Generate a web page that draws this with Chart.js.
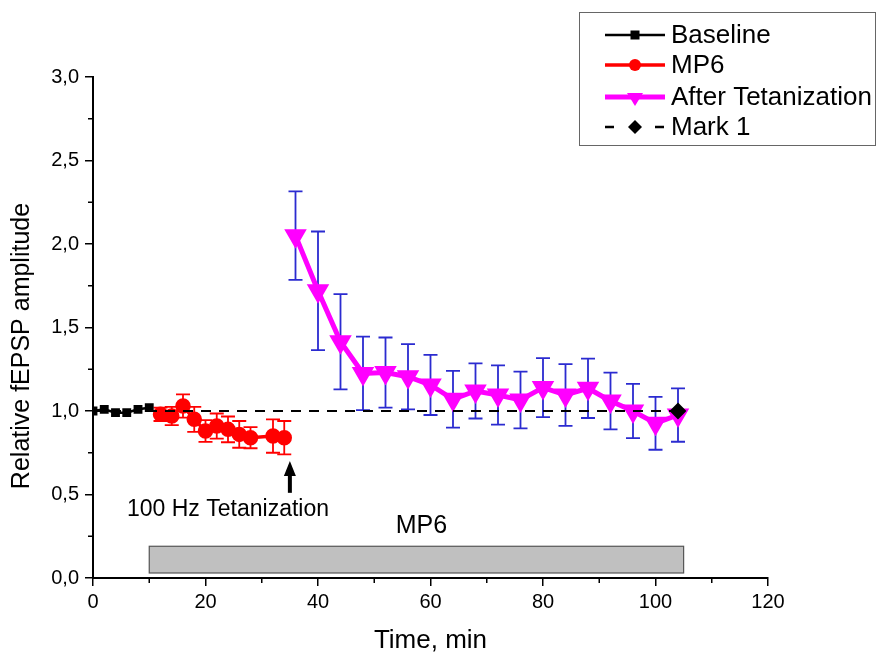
<!DOCTYPE html>
<html>
<head>
<meta charset="utf-8">
<script src="https://cdn.jsdelivr.net/npm/chart.js@4.4.1/dist/chart.umd.min.js"></script>
<style>
  html, body { margin: 0; padding: 0; background: #fff; }
  #wrap { width: 877px; height: 656px; }
</style>
</head>
<body>
<div id="wrap"><canvas id="chart" width="877" height="656"></canvas></div>
<script>
// --- Data ---
const baseTime = [0, 2, 4, 6, 8, 10];
const baseValue = [1.0, 1.01, 0.99, 0.99, 1.01, 1.02];

const mp6Time = [12, 14, 16, 18, 20, 22, 24, 26, 28, 32, 34];
const mp6Value = [0.98, 0.97, 1.03, 0.95, 0.88, 0.91, 0.89, 0.86, 0.84, 0.85, 0.84];
const mp6Err = [0.04, 0.055, 0.07, 0.075, 0.065, 0.075, 0.077, 0.08, 0.063, 0.1, 0.1];

const afterTime = [36, 40, 44, 48, 52, 56, 60, 64, 68, 72, 76, 80, 84, 88, 92, 96, 100, 104];
const afterValue = [2.05, 1.72, 1.415, 1.225, 1.23, 1.205, 1.156, 1.07, 1.12, 1.096, 1.066, 1.14, 1.096, 1.136, 1.06, 1.0, 0.926, 0.976];
const afterErr = [0.265, 0.355, 0.285, 0.22, 0.21, 0.195, 0.18, 0.17, 0.165, 0.177, 0.17, 0.177, 0.185, 0.178, 0.17, 0.163, 0.158, 0.16];

const markTime = [0, 104];
const markValue = [1.0, 1.0];

// drug application bar and tetanization mark
const mp6Bar = { start: 10, end: 105, low: 0.03, high: 0.19, label: 'MP6' };
const tetanus = { time: 35, from: 0.51, to: 0.70, label: '100 Hz Tetanization', labelTime: 24, labelValue: 0.41 };

const xTicks = [0, 20, 40, 60, 80, 100, 120];
const yTicks = [0, 0.5, 1.0, 1.5, 2.0, 2.5, 3.0];
const yTitle = 'Relative fEPSP amplitude';

const FONT = '"Liberation Sans", Arial, sans-serif';
const toPts = (xs, ys) => xs.map((x, i) => ({ x: x, y: ys[i] }));

// --- Plugin: error bars, minor ticks, annotations, legend ---
const extras = {
  id: 'extras',
  beforeDatasetsDraw(chart) {
    const ctx = chart.ctx, xs = chart.scales.x, ys = chart.scales.y;
    // grey MP6 bar
    const l = xs.getPixelForValue(mp6Bar.start), r = xs.getPixelForValue(mp6Bar.end);
    const t = ys.getPixelForValue(mp6Bar.high), b = ys.getPixelForValue(mp6Bar.low);
    ctx.save();
    ctx.fillStyle = '#c0c0c0';
    ctx.strokeStyle = '#555';
    ctx.lineWidth = 1.2;
    ctx.fillRect(l, t, r - l, b - t);
    ctx.strokeRect(l, t, r - l, b - t);
    ctx.fillStyle = '#000';
    ctx.font = '25px ' + FONT;
    ctx.textAlign = 'center';
    ctx.textBaseline = 'middle';
    ctx.fillText(mp6Bar.label, (l + r) / 2 + 5, t - 20);

    // error bars
    const drawErr = (xsArr, vals, errs, color) => {
      ctx.strokeStyle = color;
      ctx.lineWidth = 1.8;
      xsArr.forEach((x, i) => {
        const px = xs.getPixelForValue(x);
        const top = ys.getPixelForValue(vals[i] + errs[i]);
        const bot = ys.getPixelForValue(vals[i] - errs[i]);
        ctx.beginPath();
        ctx.moveTo(px, top); ctx.lineTo(px, bot);
        ctx.moveTo(px - 7, top); ctx.lineTo(px + 7, top);
        ctx.moveTo(px - 7, bot); ctx.lineTo(px + 7, bot);
        ctx.stroke();
      });
    };
    drawErr(mp6Time, mp6Value, mp6Err, '#ff0000');
    drawErr(afterTime, afterValue, afterErr, '#2b2bd0');
    ctx.restore();
  },
  afterDraw(chart) {
    const ctx = chart.ctx, xs = chart.scales.x, ys = chart.scales.y;
    const area = chart.chartArea;
    ctx.save();
    // minor ticks
    ctx.strokeStyle = '#000';
    ctx.lineWidth = 1.5;
    ctx.beginPath();
    for (let v = 10; v < 120; v += 20) {
      const px = xs.getPixelForValue(v);
      ctx.moveTo(px, area.bottom); ctx.lineTo(px, area.bottom + 5);
    }
    for (let v = 0.25; v < 3; v += 0.5) {
      const py = ys.getPixelForValue(v);
      ctx.moveTo(area.left, py); ctx.lineTo(area.left - 5, py);
    }
    ctx.stroke();

    // y axis title (sits a bit below the axis centre in the original)
    ctx.save();
    ctx.translate(22, 346);
    ctx.rotate(-Math.PI / 2);
    ctx.fillStyle = '#000';
    ctx.font = '25px ' + FONT;
    ctx.textAlign = 'center';
    ctx.textBaseline = 'middle';
    ctx.fillText(yTitle, 0, 0);
    ctx.restore();

    // tetanization arrow
    const ax = xs.getPixelForValue(tetanus.time);
    const a0 = ys.getPixelForValue(tetanus.from), a1 = ys.getPixelForValue(tetanus.to);
    ctx.lineWidth = 4;
    ctx.beginPath();
    ctx.moveTo(ax, a0); ctx.lineTo(ax, a1 + 10);
    ctx.stroke();
    ctx.fillStyle = '#000';
    ctx.beginPath();
    ctx.moveTo(ax, a1); ctx.lineTo(ax - 6, a1 + 15); ctx.lineTo(ax + 6, a1 + 15);
    ctx.closePath();
    ctx.fill();
    ctx.font = '23px ' + FONT;
    ctx.textAlign = 'center';
    ctx.textBaseline = 'middle';
    ctx.fillText(tetanus.label, xs.getPixelForValue(tetanus.labelTime), ys.getPixelForValue(tetanus.labelValue));

    // legend
    const lx = 579, ly = 12, lw = 296, lh = 133;
    ctx.lineWidth = 1;
    ctx.strokeStyle = '#666';
    ctx.strokeRect(lx + 0.5, ly + 0.5, lw, lh);
    const rows = [
      { text: 'Baseline', color: '#000', width: 2.5, marker: 'square', dash: false },
      { text: 'MP6', color: '#ff0000', width: 3.5, marker: 'circle', dash: false },
      { text: 'After Tetanization', color: '#ff00ff', width: 5, marker: 'tri', dash: false },
      { text: 'Mark 1', color: '#000', width: 2.5, marker: 'diamond', dash: true }
    ];
    const rowY = [35, 65, 97, 127];
    ctx.font = '26px ' + FONT;
    ctx.textAlign = 'left';
    ctx.textBaseline = 'middle';
    rows.forEach((r, i) => {
      const y = rowY[i];
      ctx.strokeStyle = r.color;
      ctx.fillStyle = r.color;
      ctx.lineWidth = r.width;
      ctx.beginPath();
      if (r.dash) {
        ctx.moveTo(605, y); ctx.lineTo(614, y);
        ctx.moveTo(655, y); ctx.lineTo(664, y);
      } else {
        ctx.moveTo(605, y); ctx.lineTo(665, y);
      }
      ctx.stroke();
      const cx = 635;
      ctx.beginPath();
      if (r.marker === 'square') {
        ctx.rect(cx - 4.5, y - 4.5, 9, 9);
      } else if (r.marker === 'circle') {
        ctx.arc(cx, y, 6, 0, Math.PI * 2);
      } else if (r.marker === 'tri') {
        ctx.moveTo(cx - 8, y - 4); ctx.lineTo(cx + 8, y - 4); ctx.lineTo(cx, y + 9);
        ctx.closePath();
      } else {
        ctx.moveTo(cx, y - 7); ctx.lineTo(cx + 7, y); ctx.lineTo(cx, y + 7); ctx.lineTo(cx - 7, y);
        ctx.closePath();
      }
      ctx.fill();
      ctx.fillStyle = '#000';
      ctx.fillText(r.text, 671, y + 1);
    });
    ctx.restore();
  }
};

// --- Chart ---
const ctx = document.getElementById('chart').getContext('2d');
new Chart(ctx, {
  type: 'line',
  data: {
    datasets: [
      {
        label: 'Mark 1',
        data: toPts(markTime, markValue),
        borderColor: '#000',
        backgroundColor: '#000',
        borderWidth: 2,
        borderDash: [10, 8],
        pointStyle: 'rectRot',
        pointRadius: [0, 7],
        order: 0
      },
      {
        label: 'Baseline',
        data: toPts(baseTime, baseValue),
        borderColor: '#000',
        backgroundColor: '#000',
        borderWidth: 2.5,
        pointStyle: 'rect',
        pointRadius: 4.5,
        order: 3
      },
      {
        label: 'MP6',
        data: toPts(mp6Time, mp6Value),
        borderColor: '#ff0000',
        backgroundColor: '#ff0000',
        borderWidth: 3.5,
        pointStyle: 'circle',
        pointRadius: 6,
        order: 2
      },
      {
        label: 'After Tetanization',
        data: toPts(afterTime, afterValue),
        borderColor: '#ff00ff',
        backgroundColor: '#ff00ff',
        borderWidth: 5,
        pointStyle: 'triangle',
        rotation: 180,
        pointRadius: 8,
        order: 1
      }
    ]
  },
  options: {
    responsive: false,
    animation: false,
    layout: { padding: { left: 0, right: 109, top: 77, bottom: 0 } },
    plugins: {
      legend: { display: false },
      tooltip: { enabled: false }
    },
    scales: {
      x: {
        type: 'linear',
        min: 0,
        max: 120,
        afterFit: (s) => { s.height = 78; },
        afterBuildTicks: (s) => { s.ticks = xTicks.map(v => ({ value: v })); },
        border: { color: '#000', width: 2 },
        grid: { drawOnChartArea: false, color: '#000', lineWidth: 1.5, tickLength: 8 },
        ticks: { color: '#000', font: { family: FONT, size: 20 }, padding: 4, maxRotation: 0 },
        title: { display: true, text: 'Time, min', color: '#000', font: { family: FONT, size: 26 }, padding: { top: 0, bottom: 0 } }
      },
      y: {
        type: 'linear',
        min: 0,
        max: 3,
        afterFit: (s) => { s.width = 93; },
        afterBuildTicks: (s) => { s.ticks = yTicks.map(v => ({ value: v })); },
        border: { color: '#000', width: 2 },
        grid: { drawOnChartArea: false, color: '#000', lineWidth: 1.5, tickLength: 8 },
        ticks: {
          color: '#000',
          font: { family: FONT, size: 20 },
          padding: 6,
          callback: (v) => v.toFixed(1).replace('.', ',')
        },
        title: { display: false }
      }
    }
  },
  plugins: [extras]
});
</script>
</body>
</html>
